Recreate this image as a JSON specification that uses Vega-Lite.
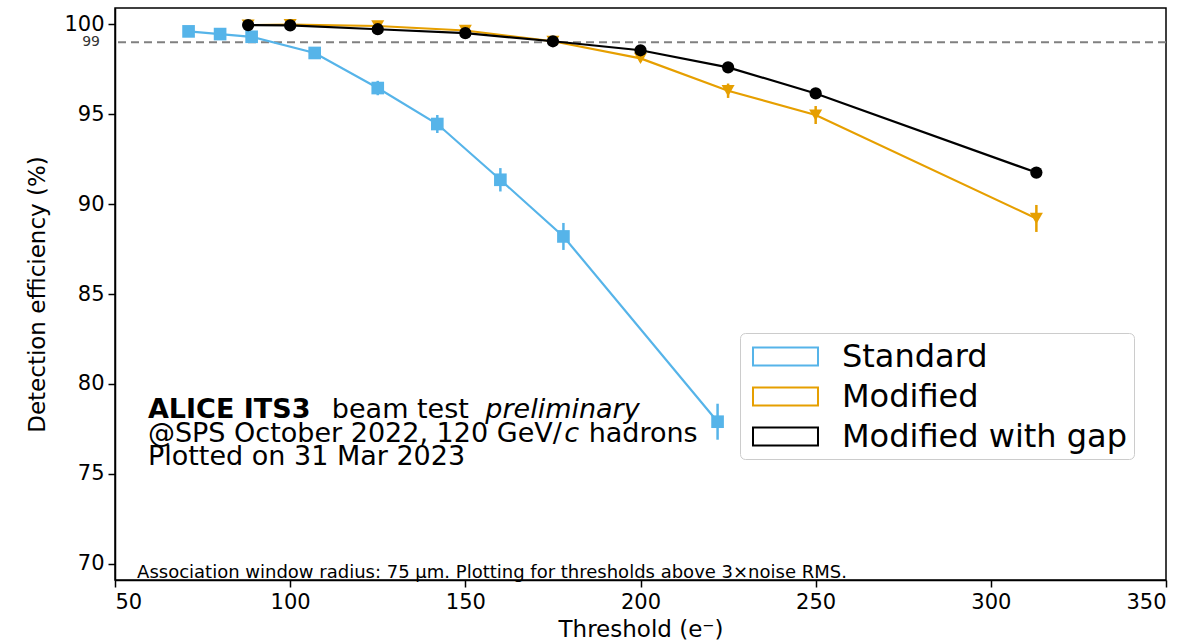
{
  "$schema": "https://vega.github.io/schema/vega-lite/v6.json",
  "autosize": {"type": "none"},
  "width": 1051,
  "height": 572,
  "padding": {"left": 115, "top": 8, "right": 28, "bottom": 61},
  "background": "white",
  "config": {
    "font": "DejaVu Sans",
    "view": {"stroke": "black", "strokeWidth": 1.5},
    "axis": {
      "labelFont": "DejaVu Sans",
      "titleFont": "DejaVu Sans",
      "labelColor": "black",
      "titleColor": "black",
      "labelFontSize": 21,
      "titleFontSize": 23,
      "titleFontWeight": "normal",
      "domainColor": "black",
      "domainWidth": 1.5,
      "tickColor": "black",
      "tickWidth": 1.5,
      "tickSize": 7,
      "gridColor": "#c0c0c0",
      "gridWidth": 1.5,
      "gridOpacity": 1
    }
  },
  "datasets": {
    "eff": [
      {"series": "Standard", "threshold": 71, "eff": 99.6, "lo": 99.5, "hi": 99.7},
      {"series": "Standard", "threshold": 80, "eff": 99.45, "lo": 99.35, "hi": 99.55},
      {"series": "Standard", "threshold": 89, "eff": 99.3, "lo": 99.2, "hi": 99.4},
      {"series": "Standard", "threshold": 107, "eff": 98.4, "lo": 98.25, "hi": 98.55},
      {"series": "Standard", "threshold": 125, "eff": 96.45, "lo": 96.05, "hi": 96.85},
      {"series": "Standard", "threshold": 142, "eff": 94.45, "lo": 93.95, "hi": 94.95},
      {"series": "Standard", "threshold": 160, "eff": 91.35, "lo": 90.7, "hi": 92.0},
      {"series": "Standard", "threshold": 178, "eff": 88.2, "lo": 87.45, "hi": 88.95},
      {"series": "Standard", "threshold": 222, "eff": 77.9, "lo": 76.9, "hi": 78.9},
      {"series": "Modified", "threshold": 88, "eff": 99.95, "lo": 99.9, "hi": 100.0},
      {"series": "Modified", "threshold": 100, "eff": 99.98, "lo": 99.93, "hi": 100.0},
      {"series": "Modified", "threshold": 125, "eff": 99.9, "lo": 99.8, "hi": 100.0},
      {"series": "Modified", "threshold": 150, "eff": 99.65, "lo": 99.55, "hi": 99.75},
      {"series": "Modified", "threshold": 175, "eff": 99.05, "lo": 98.9, "hi": 99.2},
      {"series": "Modified", "threshold": 200, "eff": 98.1, "lo": 97.9, "hi": 98.3},
      {"series": "Modified", "threshold": 225, "eff": 96.3, "lo": 95.9, "hi": 96.7},
      {"series": "Modified", "threshold": 250, "eff": 94.95, "lo": 94.45, "hi": 95.45},
      {"series": "Modified", "threshold": 313, "eff": 89.2, "lo": 88.45, "hi": 89.95},
      {"series": "Modified with gap", "threshold": 88, "eff": 99.95, "lo": 99.92, "hi": 99.98},
      {"series": "Modified with gap", "threshold": 100, "eff": 99.93, "lo": 99.9, "hi": 99.96},
      {"series": "Modified with gap", "threshold": 125, "eff": 99.72, "lo": 99.67, "hi": 99.77},
      {"series": "Modified with gap", "threshold": 150, "eff": 99.5, "lo": 99.44, "hi": 99.56},
      {"series": "Modified with gap", "threshold": 175, "eff": 99.05, "lo": 98.98, "hi": 99.12},
      {"series": "Modified with gap", "threshold": 200, "eff": 98.55, "lo": 98.47, "hi": 98.63},
      {"series": "Modified with gap", "threshold": 225, "eff": 97.6, "lo": 97.5, "hi": 97.7},
      {"series": "Modified with gap", "threshold": 250, "eff": 96.15, "lo": 96.03, "hi": 96.27},
      {"series": "Modified with gap", "threshold": 313, "eff": 91.75, "lo": 91.6, "hi": 91.9}
    ]
  },
  "layer": [
    {
      "data": {"values": [{}]},
      "mark": {"type": "rule", "color": "#808080", "strokeWidth": 2, "strokeDash": [8, 5]},
      "encoding": {"y": {"datum": 99, "type": "quantitative"}}
    },
    {
      "data": {"values": [{}]},
      "mark": {"type": "text", "align": "right", "baseline": "middle", "dx": -15, "dy": 0, "fontSize": 14, "color": "#333333"},
      "encoding": {
        "x": {"datum": 50, "type": "quantitative"},
        "y": {"datum": 99, "type": "quantitative"},
        "text": {"value": "99"}
      }
    },
    {
      "data": {"name": "eff"},
      "mark": {"type": "line", "strokeWidth": 2.2},
      "encoding": {
        "x": {
          "field": "threshold", "type": "quantitative",
          "scale": {"domain": [50, 350], "nice": false, "zero": false},
          "axis": {"values": [50, 100, 150, 200, 250, 300, 350], "title": "Threshold (e⁻)", "titlePadding": 6, "labelPadding": 4}
        },
        "y": {
          "field": "eff", "type": "quantitative",
          "scale": {"domain": [69.1, 100.9], "nice": false, "zero": false},
          "axis": {"values": [70, 75, 80, 85, 90, 95, 100], "title": "Detection efficiency (%)", "titlePadding": 14, "labelPadding": 4}
        },
        "stroke": {
          "field": "series", "type": "nominal",
          "scale": {"domain": ["Standard", "Modified", "Modified with gap"], "range": ["#56B4E9", "#E69F00", "#000000"]},
          "legend": {
            "title": null,
            "orient": "none",
            "legendX": 625,
            "legendY": 325,
            "padding": 6,
            "fillColor": "white",
            "strokeColor": "#cccccc",
            "cornerRadius": 5,
            "labelFont": "DejaVu Sans",
            "labelFontSize": 32,
            "labelColor": "black",
            "labelLimit": 0,
            "labelOffset": 39,
            "rowPadding": 6,
            "symbolOffset": 22,
            "symbolType": "M-2,-0.55H2V0.55H-2Z",
            "symbolSize": 1056,
            "symbolStrokeWidth": 2,
            "symbolFillColor": "white"
          }
        }
      }
    },
    {
      "data": {"name": "eff"},
      "mark": {"type": "rule", "strokeWidth": 2.5},
      "encoding": {
        "x": {"field": "threshold", "type": "quantitative"},
        "y": {"field": "lo", "type": "quantitative"},
        "y2": {"field": "hi"},
        "color": {
          "field": "series", "type": "nominal", "legend": null,
          "scale": {"domain": ["Modified with gap", "Modified", "Standard"], "range": ["#000000", "#E69F00", "#56B4E9"]}
        }
      }
    },
    {
      "data": {"name": "eff"},
      "mark": {"type": "point", "filled": true, "opacity": 1},
      "encoding": {
        "x": {"field": "threshold", "type": "quantitative"},
        "y": {"field": "eff", "type": "quantitative"},
        "color": {"field": "series", "type": "nominal", "legend": null},
        "shape": {
          "field": "series", "type": "nominal", "legend": null,
          "scale": {"domain": ["Modified", "Standard", "Modified with gap"], "range": ["triangle-down", "square", "circle"]}
        },
        "size": {
          "field": "series", "type": "nominal", "legend": null,
          "scale": {"domain": ["Modified with gap", "Standard", "Modified"], "range": [150, 170, 190]}
        }
      }
    },
    {
      "data": {"values": [{}]},
      "mark": {"type": "text", "align": "left", "baseline": "middle", "fontSize": 27, "fontWeight": "bold", "color": "black"},
      "encoding": {
        "x": {"datum": 59.4, "type": "quantitative"},
        "y": {"datum": 78.56, "type": "quantitative"},
        "text": {"value": "ALICE ITS3"}
      }
    },
    {
      "data": {"values": [{}]},
      "mark": {"type": "text", "align": "left", "baseline": "middle", "fontSize": 27, "color": "black"},
      "encoding": {
        "x": {"datum": 111.9, "type": "quantitative"},
        "y": {"datum": 78.56, "type": "quantitative"},
        "text": {"value": "beam test"}
      }
    },
    {
      "data": {"values": [{}]},
      "mark": {"type": "text", "align": "left", "baseline": "middle", "fontSize": 27, "fontStyle": "italic", "color": "black"},
      "encoding": {
        "x": {"datum": 155.7, "type": "quantitative"},
        "y": {"datum": 78.56, "type": "quantitative"},
        "text": {"value": "preliminary"}
      }
    },
    {
      "data": {"values": [{}]},
      "mark": {"type": "text", "align": "left", "baseline": "middle", "fontSize": 27, "color": "black"},
      "encoding": {
        "x": {"datum": 59.4, "type": "quantitative"},
        "y": {"datum": 77.22, "type": "quantitative"},
        "text": {"value": "@SPS October 2022, 120 GeV/"}
      }
    },
    {
      "data": {"values": [{}]},
      "mark": {"type": "text", "align": "left", "baseline": "middle", "fontSize": 27, "fontStyle": "italic", "color": "black"},
      "encoding": {
        "x": {"datum": 178.2, "type": "quantitative"},
        "y": {"datum": 77.22, "type": "quantitative"},
        "text": {"value": "c"}
      }
    },
    {
      "data": {"values": [{}]},
      "mark": {"type": "text", "align": "left", "baseline": "middle", "fontSize": 27, "color": "black"},
      "encoding": {
        "x": {"datum": 185.2, "type": "quantitative"},
        "y": {"datum": 77.22, "type": "quantitative"},
        "text": {"value": "hadrons"}
      }
    },
    {
      "data": {"values": [{}]},
      "mark": {"type": "text", "align": "left", "baseline": "middle", "fontSize": 27, "color": "black"},
      "encoding": {
        "x": {"datum": 59.4, "type": "quantitative"},
        "y": {"datum": 75.94, "type": "quantitative"},
        "text": {"value": "Plotted on 31 Mar 2023"}
      }
    },
    {
      "data": {"values": [{}]},
      "mark": {"type": "text", "align": "left", "baseline": "middle", "fontSize": 18, "color": "black"},
      "encoding": {
        "x": {"datum": 56.3, "type": "quantitative"},
        "y": {"datum": 69.5, "type": "quantitative"},
        "text": {"value": "Association window radius: 75 µm. Plotting for thresholds above 3×noise RMS."}
      }
    }
  ]
}
